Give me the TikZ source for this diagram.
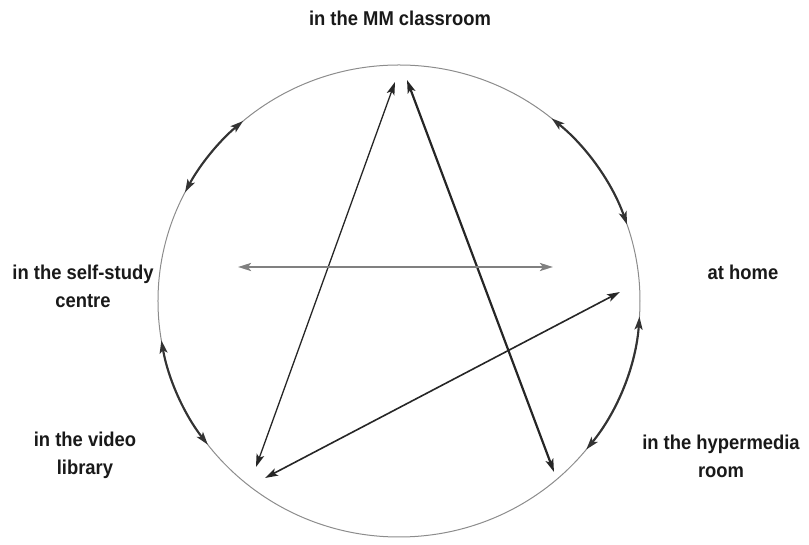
\documentclass[tikz,border=0pt]{standalone}
\usepackage{fontspec}
\newfontfamily\placefont{Liberation Sans}[FakeStretch=0.92]
\usepackage{tikz}
\usetikzlibrary{arrows.meta,positioning,calc}

\begin{document}
\begin{tikzpicture}[x=1pt, y=1pt, >={Stealth[length=13pt,width=8pt,inset=3pt]},
  place/.style={font=\placefont\bfseries\fontsize{20}{28}\selectfont, align=center, text=black!90},
  link/.style={<->, line width=1.3pt, draw=black!85},
  ring/.style={<->, line width=2.1pt, draw=black!80}]
  \useasboundingbox (-399,-244) rectangle (410,301);

  % the circle of places
  \draw[black!45, line width=1pt] (0,0) ellipse (241 and 236);

  % places
  \node[place] (mm)    at (1,283)     {in the MM classroom};
  \node[place] (self)  at (-316,15)   {in the self-study\\centre};
  \node[place] (home)  at (344,29)    {at home};
  \node[place] (video) at (-314,-154) {in the video\\library};
  \node[place] (hyper) at (322,-155)  {in the hypermedia\\room};

  % arrow ends
  \coordinate (mmL)    at (-4,219);
  \coordinate (mmR)    at (8,221);
  \coordinate (vidA)   at (-143,-166);
  \coordinate (vidB)   at (-134,-177);
  \coordinate (hypEnd) at (155,-171);
  \coordinate (homEnd) at (221,9);
  \coordinate (selfL)  at (-161,34);
  \coordinate (selfR)  at (154,34);

  % straight links
  \draw[link] (mmL) -- (vidA);
  \draw[link, line width=2.2pt] (mmR) -- (hypEnd);
  \draw[link, line width=1.6pt] (homEnd) -- (vidB);
  \draw[<->, line width=2.8pt, draw=black!50] (selfL) -- (selfR);

  % links along the circle
  \draw[ring] (130.3:241 and 236) arc[start angle=130.3, end angle=152.6, x radius=241, y radius=236];
  \draw[ring] (50.7:241 and 236) arc[start angle=50.7, end angle=18.9, x radius=241, y radius=236];
  \draw[ring] (189.6:241 and 236) arc[start angle=189.6, end angle=217.5, x radius=241, y radius=236];
  \draw[ring] (-3.8:241 and 236) arc[start angle=-3.8, end angle=-39, x radius=241, y radius=236];
\end{tikzpicture}
\end{document}
